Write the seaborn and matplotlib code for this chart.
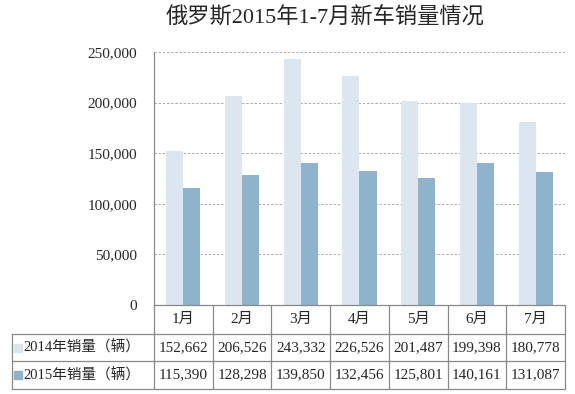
import numpy as np
import pandas as pd
import matplotlib
matplotlib.use("Agg")
import matplotlib.pyplot as plt
import seaborn as sns

# 数据
months = ['1月', '2月', '3月', '4月', '5月', '6月', '7月']
sales_2014 = [152662, 206526, 243332, 226526, 201487, 199398, 180778]
sales_2015 = [115390, 128298, 139850, 132456, 125801, 140161, 131087]
series_names = ['2014年销量（辆）', '2015年销量（辆）']
colors = ['#dce6ee', '#8fb3ca']

sns.set_style('white')
plt.rcParams['font.family'] = ['Liberation Serif', 'Noto Sans CJK SC', 'DejaVu Sans']

df = pd.DataFrame({
    'month': months * 2,
    'sales': sales_2014 + sales_2015,
    'series': [series_names[0]] * 7 + [series_names[1]] * 7,
})

fig = plt.figure(figsize=(5.75, 3.94), dpi=100)
ax = fig.add_axes([154 / 575, 1 - 305 / 394, 411 / 575, 253 / 394])

sns.barplot(data=df, x='month', y='sales', hue='series', palette=colors,
            width=0.58, ax=ax, legend=False, saturation=1, linewidth=0)

ax.set_xlim(-0.5, 6.5)
ax.set_ylim(0, 250000)
ax.set_yticks(np.arange(0, 250001, 50000))
ax.set_yticklabels([f'{v:,}' for v in range(0, 250001, 50000)], fontsize=11)
ax.tick_params(axis='y', length=0, pad=12)
ax.set_xticks([])
ax.set_xlabel('')
ax.set_ylabel('')
ax.yaxis.grid(True, linestyle=(0, (3, 2)), color='#a0a0a0', linewidth=0.6)
ax.set_axisbelow(True)
for side in ['top', 'right']:
    ax.spines[side].set_visible(False)
for side in ['left', 'bottom']:
    ax.spines[side].set_color('#888888')
    ax.spines[side].set_linewidth(0.9)

fig.text(325 / 575, 1 - 18 / 394, '俄罗斯2015年1-7月新车销量情况', ha='center', va='center',
         fontsize=16)

# 数据表
tr = ax.get_xaxis_transform()
h = 253.0
y_head = -29 / h
y_r1 = -56 / h
y_r2 = -84 / h
x_left = (12 - 154) / 411 * 7 - 0.5
lc = '#888888'
lw = 0.9

for i in range(8):
    ax.plot([i - 0.5, i - 0.5], [0, y_r2], transform=tr, color=lc, lw=lw, clip_on=False)
ax.plot([x_left, x_left], [y_head, y_r2], transform=tr, color=lc, lw=lw, clip_on=False)
for yy in [y_head, y_r1, y_r2]:
    ax.plot([x_left, 6.5], [yy, yy], transform=tr, color=lc, lw=lw, clip_on=False)

for i, m in enumerate(months):
    ax.text(i, y_head / 2, m, transform=tr, ha='center', va='center', fontsize=11)

rows = [sales_2014, sales_2015]
for r, (vals, name, c) in enumerate(zip(rows, series_names, colors)):
    yc = [(y_head + y_r1) / 2, (y_r1 + y_r2) / 2][r]
    for i, v in enumerate(vals):
        ax.text(i, yc, f'{v:,}', transform=tr, ha='center', va='center', fontsize=11)
    ax.scatter([x_left + 0.1], [yc], transform=tr, marker='s', s=30, color=c, clip_on=False)
    ax.text(x_left + 0.2, yc, name, transform=tr, ha='left', va='center', fontsize=10.5)

fig.savefig('out.png', dpi=100)
